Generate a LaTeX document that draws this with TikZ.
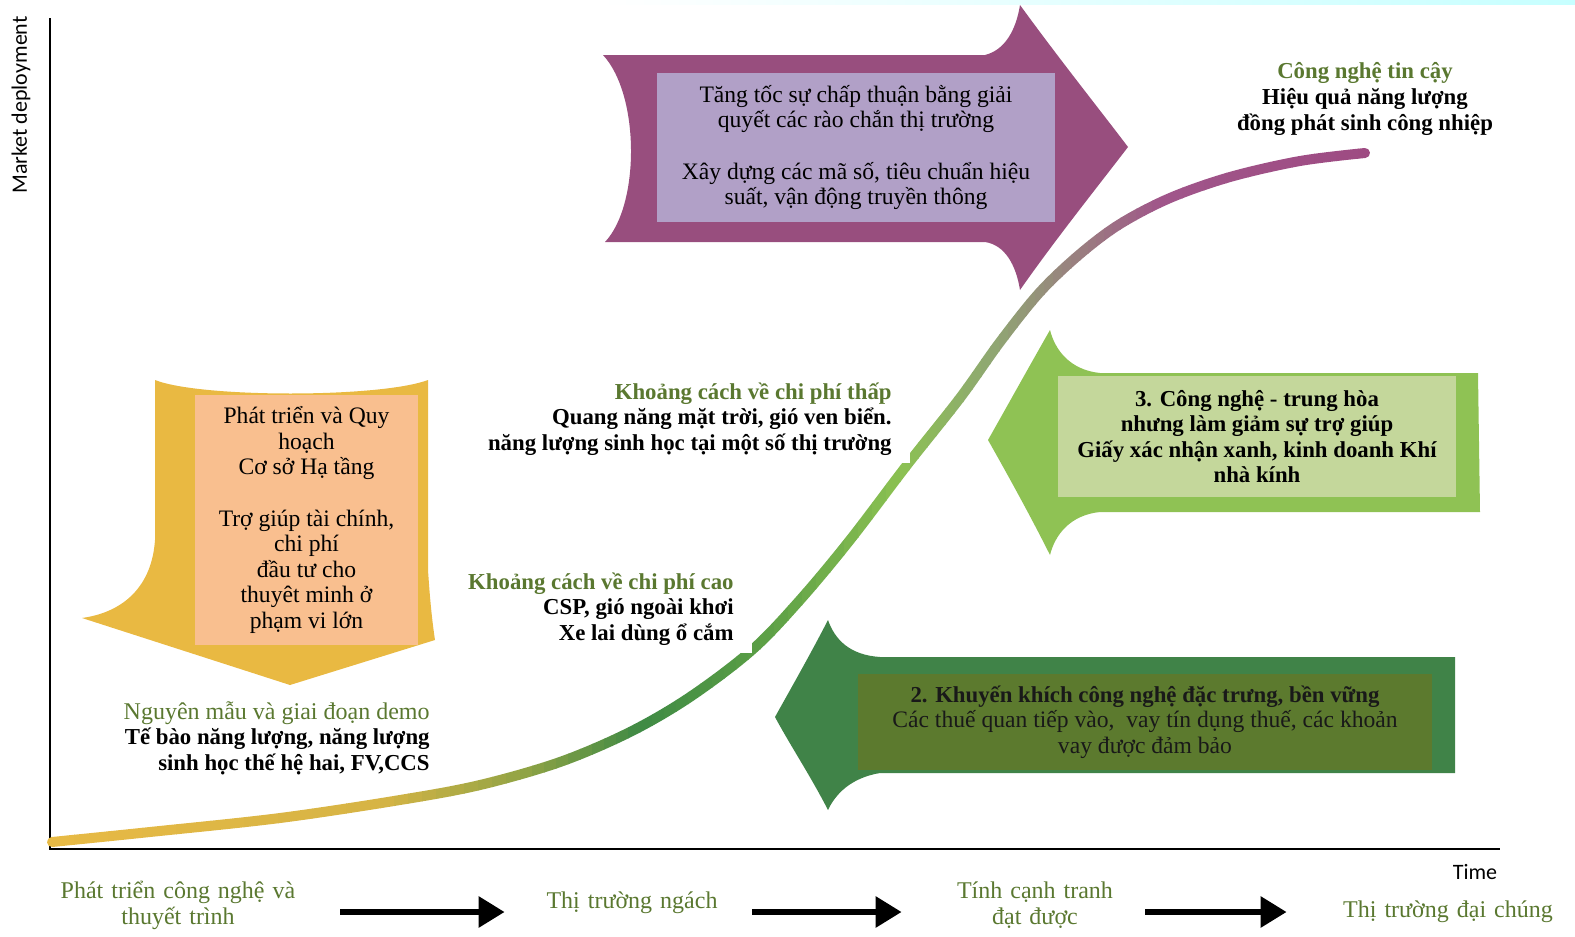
\documentclass[tikz,border=0pt]{standalone}
\usepackage{fontspec}
\setmainfont{Liberation Serif}
\newfontfamily\axisfont{Carlito}
\usetikzlibrary{positioning,arrows.meta}
\definecolor{plum}{RGB}{152,78,126}
\definecolor{lavender}{RGB}{177,160,199}
\definecolor{mustard}{RGB}{233,185,66}
\definecolor{peach}{RGB}{249,191,143}
\definecolor{leaf}{RGB}{143,194,84}
\definecolor{paleleaf}{RGB}{196,215,155}
\definecolor{forest}{RGB}{64,131,72}
\definecolor{olivebox}{RGB}{92,122,46}
\definecolor{labelgreen}{RGB}{90,120,48}
\definecolor{cA}{RGB}{232,186,69}
\definecolor{cB}{RGB}{214,180,69}
\definecolor{cC}{RGB}{147,164,69}
\definecolor{cD}{RGB}{63,138,69}
\definecolor{cE}{RGB}{90,158,69}
\definecolor{cF}{RGB}{140,193,82}
\definecolor{cG}{RGB}{143,168,114}
\definecolor{cH}{RGB}{154,126,128}
\definecolor{cI}{RGB}{160,86,138}
\definecolor{cJ}{RGB}{158,74,130}
\tikzset {
    inner box/.style={
        rectangle, % Set the shape as a rectangle
        inner sep=0pt,
        align=center,
        font=\fontsize{11.8}{12.8}\selectfont,
    },
    curve label/.style={
        align=right,
        fill=white,
        inner xsep=9pt,
        inner ysep=4pt,
        font=\bfseries\fontsize{11.4}{12.8}\selectfont,
    },
    stage label/.style={
        text=labelgreen,
        align=center,
        inner sep=0pt,
        font=\fontsize{12}{13}\selectfont,
    },
    stage arrow/.style={
        line width=3pt,
        -{Triangle[length=13pt,width=15pt]},
    },
    s curve/.style={
        line width=5pt,
        line cap=round,
    },
}
\def\scurve{plot[smooth, tension=0.55] coordinates {(52,842) (150,832) (280,818) (400,800) (480,785) (560,762) (630,732) (690,697) (752,650) (800,600) (850,540) (907,465) (960,398) (1000,342) (1040,292) (1080,254) (1120,224) (1170,198) (1230,177) (1300,161) (1365,153)}}

\begin{document}
\begin{tikzpicture}[x=0.5pt, y=-0.5pt]
\useasboundingbox (0,0) rectangle (1575,937);

\shade[left color=white, right color=cyan!22!white] (600,0) rectangle (1575,4);

% axes
\draw[line width=1.2pt] (50,18) -- (50,849) -- (1500,849);
\node[font=\axisfont\fontsize{11}{13}\selectfont, rotate=90] (ylab) at (21,105) {Market deployment};
\node[font=\axisfont\fontsize{11}{13}\selectfont] (xlab) at (1475,872) {Time};

% arrows
\fill[plum] (603,55) -- (985,55) .. controls (1005,50) and (1016,30) .. (1020,5)
    .. controls (1060,60) and (1100,110) .. (1128,147)
    .. controls (1095,190) and (1055,240) .. (1020,290)
    .. controls (1016,265) and (1005,245) .. (985,242) -- (605,242)
    .. controls (640,205) and (640,95) .. (603,55) -- cycle;
\fill[mustard] (155,380) .. controls (200,398) and (380,398) .. (428,380) -- (428,570)
    .. controls (430,600) and (432,620) .. (435,640) -- (290,685) -- (82,618)
    .. controls (125,612) and (152,585) .. (155,540) -- cycle;
\fill[leaf] (1478,373) -- (1480,512) -- (1100,512) .. controls (1070,515) and (1055,535) .. (1050,555)
    .. controls (1030,515) and (1005,470) .. (988,440)
    .. controls (1005,410) and (1030,365) .. (1050,330)
    .. controls (1055,350) and (1070,370) .. (1100,373) -- cycle;
\fill[forest] (1455,657) -- (1455,773) -- (880,773) .. controls (850,778) and (835,795) .. (828,810)
    .. controls (810,775) and (790,745) .. (775,717)
    .. controls (790,690) and (810,655) .. (828,620)
    .. controls (835,640) and (850,655) .. (880,657) -- cycle;

\node[inner box, fill=lavender, minimum width=199pt, minimum height=74.5pt] (accel) at (856,147.5)
    {Tăng tốc sự chấp thuận bằng giải\\quyết các rào chắn thị trường\\[12.8pt]Xây dựng các mã số, tiêu chuẩn hiệu\\suất, vận động truyền thông};
\node[inner box, fill=peach, minimum width=111.5pt, minimum height=125pt] (plan) at (306.5,520)
    {Phát triển và Quy\\hoạch\\Cơ sở Hạ tầng\\[12.8pt]Trợ giúp tài chính,\\chi phí\\đầu tư cho\\thuyêt minh ở\\phạm vi lớn};
\node[inner box, fill=paleleaf, minimum width=199pt, minimum height=60.5pt, font=\bfseries\fontsize{11.4}{12.8}\selectfont] (neutral) at (1257,436.5)
    {3. Công nghệ - trung hòa\\nhưng làm giảm sự trợ giúp\\Giấy xác nhận xanh, kinh doanh Khí\\nhà kính};
\node[inner box, fill=olivebox, minimum width=287pt, minimum height=48pt, text=black!90, font=\fontsize{11.8}{12.8}\selectfont] (incent) at (1145,722)
    {\textbf{\fontsize{11.4}{12.8}\selectfont 2. Khuyến khích công nghệ đặc trưng, bền vững}\\Các thuế quan tiếp vào,\ \ vay tín dụng thuế, các khoản\\vay được đảm bảo};

% s-curve
\foreach \xa/\xb/\ca/\cb in {40/380/cA/cB, 380/520/cB/cC, 520/640/cC/cD, 640/760/cD/cE, 760/900/cE/cF, 900/990/cF/cG, 990/1080/cG/cH, 1080/1160/cH/cI, 1160/1380/cI/cJ} {
    \foreach \k in {0,...,9} {
        \pgfmathsetmacro\xl{\xa+(\xb-\xa)*\k/10}
        \pgfmathsetmacro\xr{\xa+(\xb-\xa)*(\k+1)/10+0.6}
        \pgfmathtruncatemacro\p{95-\k*10}
        \begin{scope}
            \clip (\xl,0) rectangle (\xr,937);
            \draw[s curve, color=\ca!\p!\cb] \scurve;
        \end{scope}
    }
}

\node[curve label, anchor=east] (low) at (910,419)
    {\textcolor{labelgreen}{Khoảng cách về chi phí thấp}\\Quang năng mặt trời, gió ven biển.\\năng lượng sinh học tại một số thị trường};
\node[curve label, anchor=east] (high) at (752,609)
    {\textcolor{labelgreen}{Khoảng cách về chi phí cao}\\CSP, gió ngoài khơi\\Xe lai dùng ổ cắm};
\node[align=center, font=\bfseries\fontsize{11.4}{12.8}\selectfont] (proven) at (1365,99)
    {\textcolor{labelgreen}{Công nghệ tin cậy}\\Hiệu quả năng lượng\\đồng phát sinh công nhiệp};
\node[align=right, anchor=east, inner sep=0pt, font=\fontsize{12}{12.8}\selectfont] (proto) at (430,738)
    {\textcolor{labelgreen}{Nguyên mẫu và giai đoạn demo}\\\textbf{\fontsize{11.4}{12.8}\selectfont Tế bào năng lượng, năng lượng}\\\textbf{\fontsize{11.4}{12.8}\selectfont sinh học thế hệ hai, FV,CCS}};

% stages
\node[stage label, text width=120pt] (dev) at (178,905) {Phát triển công nghệ và\\thuyết trình};
\node[stage label, text width=90pt] (niche) at (632,903) {Thị trường ngách};
\node[stage label, text width=80pt] (compet) at (1035,905) {Tính cạnh tranh\\đạt được};
\node[stage label, text width=110pt] (mass) at (1448,912) {Thị trường đại chúng};

\draw[stage arrow, shorten <=21pt, shorten >=18.5pt] ([yshift=-3.5pt]dev.east) -- ([yshift=-4.5pt]niche.west);
\draw[stage arrow, shorten <=15pt, shorten >=26.5pt] ([yshift=-4.5pt]niche.east) -- ([yshift=-3.5pt]compet.west);
\draw[stage arrow, shorten <=15pt, shorten >=25.5pt] ([yshift=-3.5pt]compet.east) -- (mass.west);
\end{tikzpicture}
\end{document}
